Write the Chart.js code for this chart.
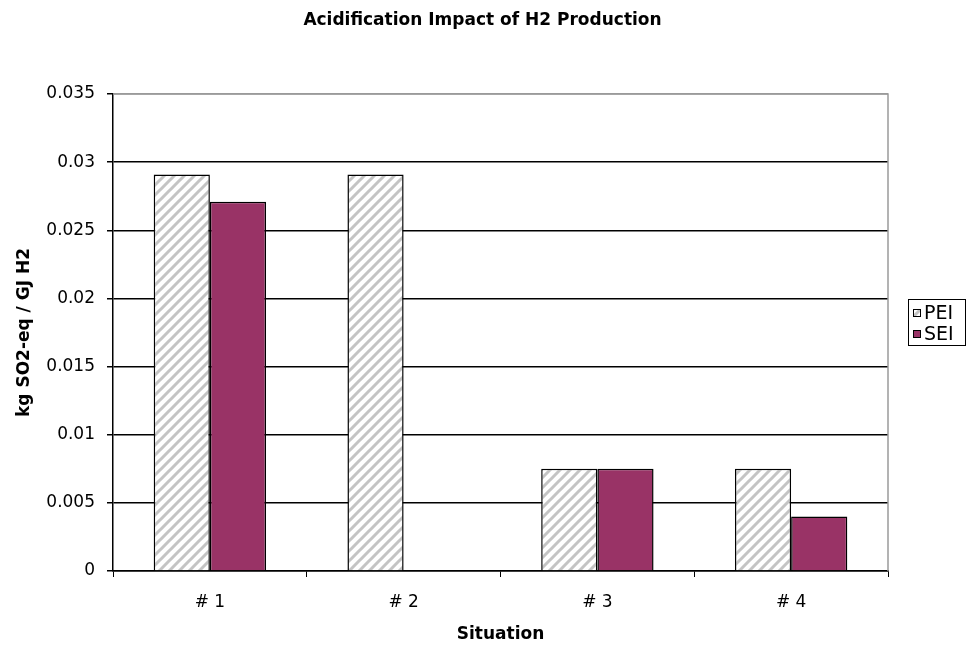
<!DOCTYPE html>
<html>
<head>
<meta charset="utf-8">
<title>Acidification Impact of H2 Production</title>
<script src="https://cdn.jsdelivr.net/npm/chart.js@4.4.0/dist/chart.umd.min.js"></script>
<style>
  html, body { margin: 0; padding: 0; background: #fff; }
  #wrap { width: 973px; height: 649px; }
</style>
</head>
<body>
<div id="wrap"><canvas id="chart" width="973" height="649"></canvas></div>
<script>
// chart data
const situations = ["# 1", "# 2", "# 3", "# 4"];
const peiValues = [0.0291, 0.0291, 0.0075, 0.0075];
const seiValues = [0.0271, null, 0.0075, 0.0040];
const seriesNames = ["PEI", "SEI"];
const chartTitle = "Acidification Impact of H2 Production";

const FONT = "'DejaVu Sans', sans-serif";

// diagonal hatch for the PEI bars
function makeHatch() {
    let c = document.createElement("canvas");
    c.width = 10;
    c.height = 10;
    let g = c.getContext("2d");
    g.fillStyle = "#ffffff";
    g.fillRect(0, 0, 10, 10);
    g.strokeStyle = "#c4c4c4";
    g.lineWidth = 3;
    g.beginPath();
    g.moveTo(-2, 12); g.lineTo(12, -2);
    g.moveTo(-2, 2); g.lineTo(2, -2);
    g.moveTo(8, 12); g.lineTo(12, 8);
    g.stroke();
    return g.createPattern(c, "repeat");
}

// gray plot-area frame + title centred on the whole canvas
const plotFrame = {
    id: "plotFrame",
    beforeDatasetsDraw(chart) {
        let a = chart.chartArea;
        let ctx = chart.ctx;
        ctx.save();
        ctx.strokeStyle = "#9a9a9a";
        ctx.lineWidth = 1.5;
        ctx.beginPath();
        ctx.moveTo(a.left, a.top);
        ctx.lineTo(a.right, a.top);
        ctx.lineTo(a.right, a.bottom);
        ctx.stroke();

        ctx.fillStyle = "#000";
        ctx.font = "bold 17px " + FONT;
        ctx.textAlign = "center";
        ctx.textBaseline = "middle";
        ctx.fillText(chartTitle, chart.width / 2 - 4, 21);
        ctx.restore();
    }
};

// boxed legend on the right, like Excel's
const boxLegend = {
    id: "boxLegend",
    afterDraw(chart) {
        let ctx = chart.ctx;
        let a = chart.chartArea;
        let x = a.right + 20, y = a.top + 205, w = 57, h = 46;
        ctx.save();
        ctx.strokeStyle = "#000";
        ctx.lineWidth = 1;
        ctx.strokeRect(x + 0.5, y + 0.5, w, h);
        ctx.font = "19px " + FONT;
        ctx.textBaseline = "middle";
        chart.data.datasets.forEach((ds, i) => {
            let cy = y + 14 + i * 21;
            ctx.fillStyle = ds.backgroundColor;
            ctx.fillRect(x + 5, cy - 4, 8, 8);
            ctx.strokeStyle = "#000";
            ctx.strokeRect(x + 5.5, cy - 3.5, 7, 7);
            ctx.fillStyle = "#000";
            ctx.fillText(ds.label, x + 16, cy + 1);
        });
        ctx.restore();
    }
};

new Chart(document.getElementById("chart"), {
    type: "bar",
    data: {
        labels: situations,
        datasets: [{
            label: seriesNames[0],
            data: peiValues,
            backgroundColor: makeHatch(),
            borderColor: "#000",
            borderWidth: 1.5,
            borderSkipped: "bottom",
            categoryPercentage: 0.58,
            barPercentage: 1.0
        }, {
            label: seriesNames[1],
            data: seiValues,
            backgroundColor: "#993366",
            borderColor: "#000",
            borderWidth: 1.5,
            borderSkipped: "bottom",
            categoryPercentage: 0.58,
            barPercentage: 1.0
        }]
    },
    options: {
        responsive: false,
        animation: false,
        devicePixelRatio: 1,
        layout: { padding: { left: 0, right: 85, top: 94, bottom: 0 } },
        plugins: {
            legend: { display: false },
            tooltip: { enabled: false },
            title: { display: false }
        },
        scales: {
            x: {
                grid: {
                    offset: true,
                    drawOnChartArea: false,
                    tickLength: 6,
                    tickColor: "#000",
                    color: "#000"
                },
                border: { color: "#000", width: 1.5 },
                ticks: {
                    color: "#000",
                    font: { family: FONT, size: 17 },
                    padding: 15
                },
                title: {
                    display: true,
                    text: "Situation",
                    color: "#000",
                    font: { family: FONT, size: 17, weight: "bold" },
                    padding: { top: 12 }
                },
                afterFit(scale) { scale.height = 78; }
            },
            y: {
                min: 0,
                max: 0.035,
                ticks: {
                    stepSize: 0.005,
                    color: "#000",
                    font: { family: FONT, size: 17 },
                    padding: 12,
                    callback: v => String(+v.toFixed(3))
                },
                grid: {
                    color: c => (c.tick && c.tick.value >= 0.035 ? "#9a9a9a" : "#000"),
                    lineWidth: 1.5,
                    tickLength: 6,
                    tickColor: "#000"
                },
                border: { color: "#000", width: 1.5 },
                title: {
                    display: true,
                    text: "kg SO2-eq / GJ H2",
                    color: "#000",
                    font: { family: FONT, size: 17, weight: "bold" },
                    padding: { top: 14, bottom: 0 }
                },
                afterFit(scale) { scale.width = 113; }
            }
        }
    },
    plugins: [plotFrame, boxLegend]
});
</script>
</body>
</html>
